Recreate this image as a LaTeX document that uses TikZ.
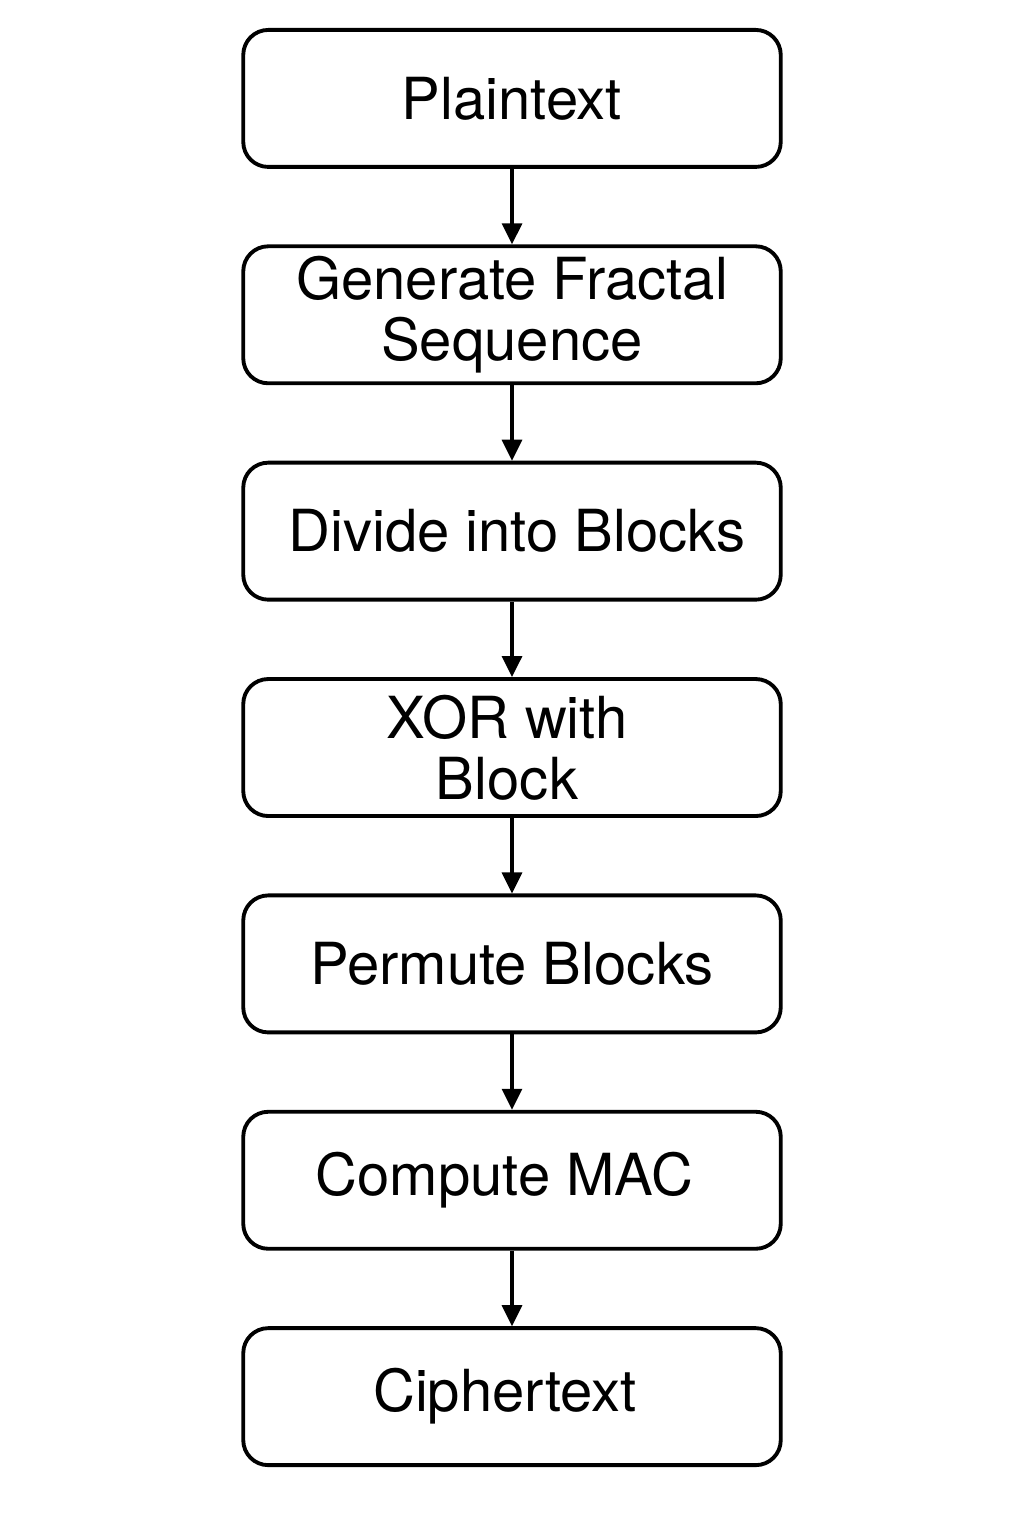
\documentclass[tikz,border=0pt]{standalone}
\usepackage{fontspec}
\setmainfont{TeX Gyre Heros}
\usetikzlibrary{positioning}
\usetikzlibrary{arrows.meta}

\begin{document}
\begin{tikzpicture}[
    stage/.style={draw, rounded corners=0.5cm, line width=2.2pt,
        minimum width=10.75cm, minimum height=2.74cm, align=center,
        font=\fontsize{33}{35}\selectfont, inner sep=0pt},
    flow/.style={line width=1.8pt, -{Triangle[length=0.42cm,width=0.4cm]}},
    node distance=1.51cm
]
\useasboundingbox (0,0) rectangle (20.48,-30.72);

\coordinate (top) at (10.24,-0.56);

\node[stage, below=0pt of top] (plain) {Plaintext};
\node[stage, below=of plain] (fractal) {Generate Fractal\\Sequence};
\node[stage, below=of fractal] (divide) {\hspace{0.2cm}Divide into Blocks};
\node[stage, below=of divide] (xor) {\hspace{-0.2cm}XOR with\\\hspace{-0.2cm}Block};
\node[stage, below=of xor] (permute) {Permute Blocks};
\node[stage, below=of permute] (mac) {\hspace{-0.3cm}Compute MAC};
\node[stage, below=of mac] (cipher) {\hspace{-0.28cm}Ciphertext};

\foreach \a/\b in {plain/fractal, fractal/divide, divide/xor,
                   xor/permute, permute/mac, mac/cipher}
    \draw[flow] (\a.south) -- (\b.north);

\end{tikzpicture}
\end{document}
